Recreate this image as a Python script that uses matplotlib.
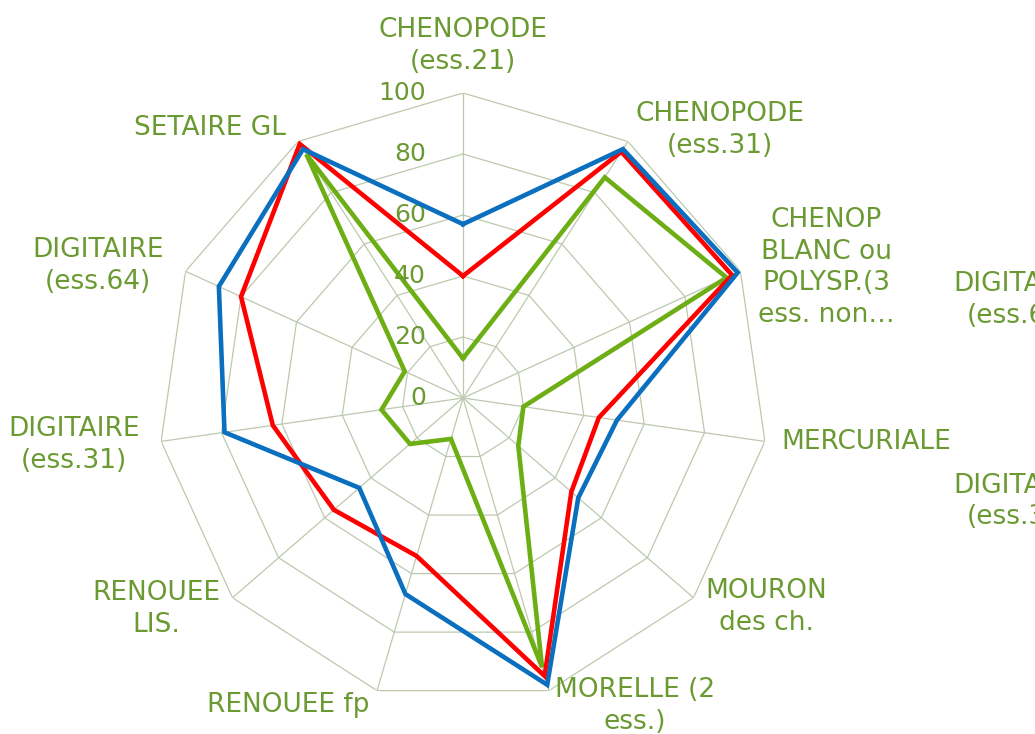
import numpy as np
import matplotlib
matplotlib.use("Agg")
import matplotlib.pyplot as plt

# categories, clockwise from the top
categories = ["CHENOPODE\n(ess.21)", "CHENOPODE\n(ess.31)",
              "CHENOP\nBLANC ou\nPOLYSP.(3\ness. non…",
              "MERCURIALE", "MOURON\ndes ch.", "MORELLE (2\ness.)",
              "RENOUEE fp", "RENOUEE\nLIS.", "DIGITAIRE\n(ess.31)",
              "DIGITAIRE\n(ess.64)", "SETAIRE GL"]

blue = [57, 97, 99, 51, 50, 98, 67, 45, 79, 88, 97]
red = [40, 96, 97, 45, 47, 95, 54, 56, 63, 80, 99]
green = [13, 86, 95, 20, 24, 92, 14, 23, 27, 21, 95]

ticks = [0, 20, 40, 60, 80, 100]

# labels of the neighbouring chart, cut by the right edge
stray_labels = ["DIGITAIRE\n(ess.64)", "DIGITAIRE\n(ess.31)"]

# where Excel put each category label (radius in data units, angle in degrees)
label_r = [115.4, 121.7, 126.5, 132.9, 120.7, 115.7, 115.9, 122.1, 128.5, 127.3, 121.3]
label_deg = [0, 43.8, 70.2, 96.2, 124.6, 150.8, 209.7, 235.5, 263.1, 289.9, 316.9]

TXT = "#6B9A32"
GRID = "#BCC9AE"

n = len(categories)
theta = np.arange(n) * 2 * np.pi / n
closed = np.append(theta, theta[0])

fig = plt.figure(figsize=(10.35, 7.34), dpi=100)
cx, cy = 463 / 1035, 1 - 398 / 734
rw, rh = 305 / 1035, 305 / 734
ax = fig.add_axes([cx - rw, cy - rh, 2 * rw, 2 * rh], projection="polar")
ax.set_theta_zero_location("N")
ax.set_theta_direction(-1)
ax.set_ylim(0, 100)
ax.grid(False)
ax.spines["polar"].set_visible(False)
ax.set_xticks([])
ax.set_yticks([])
ax.patch.set_visible(False)

# polygon grid
for t in ticks[1:]:
    ax.plot(closed, [t] * (n + 1), color=GRID, lw=0.9, zorder=1)
for a in theta:
    ax.plot([a, a], [0, 100], color=GRID, lw=0.9, zorder=1)

# series
for vals, col, z in [(green, "#6CAE14", 3), (red, "#FF0000", 4), (blue, "#0A6FBF", 5)]:
    ax.plot(closed, vals + vals[:1], color=col, lw=3.3, zorder=z,
            solid_joinstyle="miter")

# value ticks
for t in ticks:
    ax.annotate(str(t), xy=(0, t), xytext=(-37, 0), textcoords="offset pixels",
                ha="right", va="center", fontsize=18, color=TXT)

# category labels
for lab, r, d in zip(categories, label_r, label_deg):
    ax.text(np.radians(d), r, lab, ha="center", va="center", ma="center",
            fontsize=19, color=TXT, linespacing=1.28, clip_on=False)

fig.text(1019.5 / 1035, 1 - 300 / 734, stray_labels[0], ha="center", va="center",
         ma="center", fontsize=19, color=TXT, linespacing=1.28)
fig.text(1019.5 / 1035, 1 - 501.5 / 734, stray_labels[1], ha="center", va="center",
         ma="center", fontsize=19, color=TXT, linespacing=1.28)

fig.savefig("out.png", dpi=100)
